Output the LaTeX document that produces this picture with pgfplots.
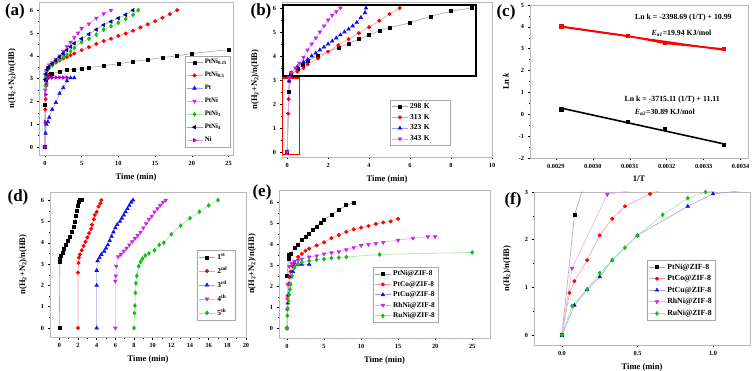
\documentclass[border=0pt]{standalone}
\usepackage{fontspec}
\setmainfont{Liberation Serif}
\usepackage{pgfplots}
\pgfplotsset{compat=1.18}

\definecolor{cred}{HTML}{FF0000}
\definecolor{cblue}{HTML}{1010F0}
\definecolor{cvio}{HTML}{CC22EE}
\definecolor{cgreen}{HTML}{10C010}
\definecolor{cnavy}{HTML}{000090}
\definecolor{cpurp}{HTML}{B000C8}

\tikzset{
  sblk/.style={draw=black!35,line width=0.6pt,mark=square*,mark size=1.5pt,mark options={draw=black,fill=black,solid}},
  sred/.style={draw=cred!40,line width=0.6pt,mark=*,mark size=1.7pt,mark options={draw=cred,fill=cred,solid}},
  sblu/.style={draw=cblue!40,line width=0.6pt,mark=triangle*,mark size=2pt,mark options={draw=cblue,fill=cblue,solid}},
  svio/.style={draw=cvio!40,line width=0.6pt,mark=triangle*,mark size=2pt,mark options={draw=cvio,fill=cvio,solid,rotate=180}},
  sgrn/.style={draw=cgreen!40,line width=0.6pt,mark=diamond*,mark size=2pt,mark options={draw=cgreen,fill=cgreen,solid}},
  snav/.style={draw=cnavy!40,line width=0.6pt,mark=triangle*,mark size=2pt,mark options={draw=cnavy,fill=cnavy,solid,rotate=90}},
  spur/.style={draw=cpurp!40,line width=0.6pt,mark=triangle*,mark size=2pt,mark options={draw=cpurp,fill=cpurp,solid,rotate=-90}},
}

\pgfplotsset{
  panel/.style={
    scale only axis, anchor=south west,
    axis line style={draw=gray!55,line width=0.5pt},
    every tick/.style={black,line width=0.45pt},
    tick align=outside, tick pos=left,
    major tick length=2.5pt, minor tick length=1.5pt,
    minor tick num=1,
    /pgf/number format/assume math mode=true,
    ticklabel style={font=\fontsize{6.3}{7}\selectfont\bfseries},
    label style={font=\fontsize{8.5}{9.5}\selectfont\bfseries},
    ylabel shift=7pt, xlabel shift=1pt,
    legend cell align=left,
    legend image code/.code={\draw[mark repeat=2,mark phase=2,##1] plot coordinates {(0pt,0pt) (8pt,0pt) (16pt,0pt)};},
  },
  leg/.style={legend style={draw=gray!70,line width=0.4pt,font=\fontsize{#1}{#1}\selectfont\bfseries,inner sep=1.5pt,cells={anchor=west}}},
}

\begin{document}
\begin{tikzpicture}
\path[use as bounding box] (0pt,0pt) rectangle (756pt,370pt);

% (a)
\begin{axis}[panel, at={(39pt,215pt)}, width=194pt, height=153pt,
  xmin=-0.8, xmax=25.6, ymin=-0.35, ymax=6.36,
  xtick={0,5,...,25}, ytick={0,...,6},
  xlabel={Time (min)}, ylabel={n(H\textsubscript{2}+N\textsubscript{2})/n(HB)},
  leg=6.8, legend style={at={(0.75,0.65)},anchor=north west,row sep=2.8pt}]
\addplot[sblk] coordinates {(0,0) (0.05,1.85) (0.1,2.95) (0.2,3.1) (0.3,3.15) (0.5,3.18) (0.75,3.2) (1,3.22) (2,3.3) (3,3.38) (4,3.4) (5,3.43) (6,3.48) (8,3.57) (10,3.65) (12,3.75) (14,3.83) (16,3.92) (18,4.0) (20,4.1) (25,4.27)};
\addplot[sred] coordinates {(0,0) (0.05,1.65) (0.1,2.1) (0.2,2.7) (0.3,3.2) (0.5,3.45) (1,3.6) (1.5,3.7) (2,3.8) (2.5,3.88) (3,3.95) (3.5,4.03) (4,4.1) (5,4.25) (6,4.38) (7,4.52) (8,4.65) (9,4.75) (10,4.87) (11,4.98) (12,5.1) (13,5.25) (14,5.38) (15,5.52) (16,5.67) (17,5.83) (18,6.0)};
\addplot[sblu] coordinates {(0,0) (0.1,0.6) (0.2,1.0) (0.4,1.1) (0.6,1.3) (1,1.65) (1.5,1.95) (2,2.35) (2.5,2.6) (3,2.9) (3.5,3.03) (4,3.03)};
\addplot[svio] coordinates {(0,0) (0.05,2.5) (0.1,3.0) (0.2,3.3) (0.4,3.5) (0.6,3.6) (1,3.7) (1.5,3.85) (2,4.0) (2.5,4.2) (3,4.4) (3.5,4.6) (4,4.8) (4.5,5.0) (5,5.2) (6,5.4) (7,5.65) (8,5.85) (9,6.0)};
\addplot[sgrn] coordinates {(0,0) (0.05,2.7) (0.1,3.1) (0.2,3.3) (0.4,3.45) (0.7,3.55) (1,3.6) (1.5,3.75) (2,3.85) (2.5,3.95) (3,4.05) (3.5,4.2) (4,4.35) (5,4.6) (6,4.75) (7,4.93) (8,5.15) (9,5.3) (10,5.45) (11,5.62) (12,5.8) (12.7,6.0)};
\addplot[snav] coordinates {(0,0) (0.05,2.95) (0.1,3.2) (0.3,3.4) (0.5,3.5) (1,3.65) (1.5,3.8) (2,3.95) (2.5,4.1) (3,4.25) (3.5,4.4) (4,4.55) (5,4.75) (6,4.95) (7,5.15) (8,5.35) (9,5.5) (10,5.65) (11,5.8) (12,6.0)};
\addplot[spur] coordinates {(0,0) (0.05,1.1) (0.1,2.3) (0.2,2.8) (0.4,3.0) (0.6,3.05) (1,3.05) (1.5,3.05) (2,3.05) (2.5,3.05) (3,3.05)};
\legend{PtNi\textsubscript{0.25}, PtNi\textsubscript{0.5}, Pt, PtNi, PtNi\textsubscript{2}, PtNi\textsubscript{4}, Ni}
\end{axis}

% (b)
\begin{axis}[panel, at={(282pt,213pt)}, width=210pt, height=155pt,
  xmin=-0.25, xmax=10, ymin=-0.21, ymax=6.25,
  xtick={0,2,...,10}, ytick={0,...,6},
  xlabel={Time (min)}, ylabel={n(H\textsubscript{2}+N\textsubscript{2})/n(HB)},
  leg=7.5, legend style={at={(0.514,0.37)},anchor=north west,row sep=0.3pt,
    /tikz/every even column/.append style={text width=36pt}}]
\addplot[sblk] coordinates {(0,0) (0.1,2.5) (0.2,3.2) (0.5,3.45) (0.75,3.65) (1,3.8) (1.5,4.0) (2.5,4.35) (3,4.52) (3.5,4.7) (4,4.87) (4.5,5.05) (5,5.18) (6,5.38) (7,5.65) (8,5.87) (9,6.0)};
\addplot[sred] coordinates {(0,0) (0.05,1.6) (0.07,2.2) (0.1,2.95) (0.2,3.3) (0.5,3.35) (0.8,3.5) (1.0,3.65) (1.5,3.9) (2,4.18) (2.5,4.45) (3,4.7) (3.5,4.95) (4,5.2) (4.5,5.47) (5,5.75) (5.5,6.0)};
\addplot[sblu] coordinates {(0,0) (0.1,2.95) (0.2,3.3) (0.5,3.55) (0.8,3.75) (1,3.85) (1.2,4.0) (1.4,4.12) (1.6,4.25) (1.8,4.37) (2,4.5) (2.2,4.62) (2.4,4.75) (2.6,4.88) (2.8,5.0) (3,5.12) (3.2,5.25) (3.4,5.4) (3.6,5.6) (3.8,5.8) (3.85,6.0)};
\addplot[svio] coordinates {(0,0) (0.1,3.1) (0.2,3.3) (0.4,3.5) (0.6,3.7) (0.8,3.95) (1,4.25) (1.2,4.5) (1.4,4.75) (1.6,5.0) (1.8,5.25) (2,5.5) (2.2,5.7) (2.4,5.85) (2.6,6.0)};
\legend{298 K, 313 K, 323 K, 343 K}
\draw[black,line width=2pt] (axis cs:-0.22,3.15) rectangle (axis cs:9.2,6.14);
\draw[red,line width=1.2pt] (axis cs:-0.22,-0.12) rectangle (axis cs:0.6,3.08);
\end{axis}

% (c)
\begin{axis}[panel, at={(530pt,212pt)}, width=218pt, height=153pt,
  xmin=0.00283, xmax=0.00342, ymin=-2, ymax=5,
  xtick={0.0029,0.0030,0.0031,0.0032,0.0033,0.0034}, ytick={-2,...,5},
  scaled x ticks=false, ylabel shift=3pt,
  xticklabel style={/pgf/number format/.cd,fixed,fixed zerofill,precision=4},
  xlabel={1/T}, ylabel={Ln \textit{k}}]
\addplot[draw=red,line width=1.6pt,mark=square*,mark size=1.3pt,mark options={fill=red,solid}] coordinates {(0.002915,4.02) (0.003096,3.58) (0.003195,3.25) (0.003356,2.98)};
\addplot[draw=red,line width=1.6pt] coordinates {(0.002915,4.0) (0.003356,2.94)};
\addplot[draw=black,line width=1.6pt,only marks,mark=square*,mark size=1.3pt] coordinates {(0.002915,0.22) (0.003096,-0.35) (0.003195,-0.68) (0.003356,-1.42)};
\addplot[draw=black,line width=1.6pt] coordinates {(0.002915,0.28) (0.003356,-1.36)};
\node[font=\fontsize{7.8}{8.5}\selectfont\bfseries] at (axis cs:0.003245,4.41) {Ln k = -2398.69 (1/T) + 10.99};
\node[font=\fontsize{7.8}{8.5}\selectfont\bfseries] at (axis cs:0.003240,3.72) {\textit{E}\textsubscript{\textit{a1}}=19.94 KJ/mol};
\node[font=\fontsize{7.8}{8.5}\selectfont\bfseries] at (axis cs:0.003215,0.66) {Ln k = -3715.11 (1/T) + 11.11};
\node[font=\fontsize{7.8}{8.5}\selectfont\bfseries] at (axis cs:0.003195,0.11) {\textit{E}\textsubscript{\textit{a2}}=30.89 KJ/mol};
\end{axis}

% (d)
\begin{axis}[panel, at={(50pt,33pt)}, width=196pt, height=145pt,
  xmin=-1, xmax=20, ymin=-0.42, ymax=6.38,
  xtick={0,2,...,20}, ytick={0,...,6},
  xlabel={Time (min)}, ylabel={n(H\textsubscript{2}+N\textsubscript{2})/n(HB)},
  leg=7.5, legend style={at={(0.75,0.6)},anchor=north west,row sep=1.8pt,
    /tikz/every even column/.append style={text width=14pt}}]
\addplot[sblk] coordinates {(0,0) (0.05,3.1) (0.1,3.25) (0.2,3.4) (0.35,3.55) (0.5,3.7) (0.7,3.9) (0.9,4.1) (1.1,4.3) (1.3,4.5) (1.5,4.75) (1.7,5.0) (1.8,5.25) (1.9,5.5) (2.0,5.75) (2.1,5.9) (2.2,6.0) (2.4,6.0)};
\addplot[sred] coordinates {(2,0) (2,2.6) (2.05,3.05) (2.1,3.3) (2.2,3.45) (2.4,3.65) (2.6,3.85) (2.8,4.05) (3.0,4.25) (3.2,4.45) (3.4,4.65) (3.5,4.85) (3.7,5.1) (3.8,5.3) (4.0,5.45) (4.2,5.7) (4.4,5.85) (4.5,6.0)};
\addplot[sblu] coordinates {(4,0) (4,2.0) (4,2.7) (4.1,3.15) (4.3,3.3) (4.5,3.45) (4.8,3.6) (5.0,3.75) (5.2,3.9) (5.4,4.1) (5.6,4.3) (5.8,4.5) (6.0,4.7) (6.2,4.85) (6.5,5.0) (6.7,5.15) (6.9,5.3) (7.1,5.45) (7.3,5.6) (7.5,5.75) (7.7,5.9) (7.9,6.0)};
\addplot[svio] coordinates {(6,0) (6,2.2) (6.05,2.45) (6.1,2.9) (6.3,3.35) (6.6,3.45) (6.9,3.6) (7.2,3.75) (7.5,3.9) (7.8,4.05) (8.1,4.2) (8.4,4.35) (8.7,4.5) (9.0,4.7) (9.3,4.9) (9.6,5.1) (9.9,5.25) (10.2,5.45) (10.5,5.6) (10.8,5.75) (11.1,5.9) (11.4,6.0)};
\addplot[sgrn] coordinates {(8,0) (8.05,0.7) (8.1,1.05) (8.15,1.65) (8.2,2.1) (8.3,2.45) (8.5,2.9) (8.7,3.1) (8.9,3.25) (9.2,3.4) (9.6,3.5) (10.2,3.65) (10.7,3.9) (11.2,4.0) (12.0,4.4) (13,4.8) (14,5.15) (15,5.45) (16,5.75) (17,6.0)};
\legend{1\textsuperscript{st}, 2\textsuperscript{nd}, 3\textsuperscript{rd}, 4\textsuperscript{th}, 5\textsuperscript{th}}
\end{axis}

% (e)
\begin{axis}[panel, at={(279pt,32pt)}, width=211pt, height=148pt,
  xmin=-1.08, xmax=27.4, ymin=-0.47, ymax=6.6,
  xtick={0,5,...,25}, ytick={0,...,6},
  xlabel={Time (min)}, ylabel={n(H\textsubscript{2}+N\textsubscript{2})/n(HB)},
  leg=7.3, legend style={at={(0.445,0.48)},anchor=north west,row sep=0pt}]
\addplot[sblk] coordinates {(0,2.5) (0.2,3.3) (0.3,3.5) (0.5,3.55) (1,3.85) (1.5,4.0) (2,4.2) (2.5,4.35) (3,4.5) (3.5,4.7) (4,4.85) (4.5,5.05) (5,5.2) (6,5.4) (7,5.65) (8,5.87) (9,6.0)};
\addplot[sred] coordinates {(0,0) (0.05,0.9) (0.1,1.55) (0.2,2.1) (0.3,2.45) (0.5,2.7) (0.8,2.95) (1,3.1) (1.5,3.4) (2,3.55) (2.5,3.7) (3,3.8) (4,3.95) (5,4.1) (6,4.3) (7,4.45) (8,4.6) (9,4.72) (10,4.8) (11,4.88) (12,4.98) (13,5.05) (14,5.1) (15,5.22)};
\addplot[sblu] coordinates {(0,0) (0.1,1.2) (0.2,1.6) (0.3,2.1) (0.5,2.45) (0.8,2.7) (1,2.95) (1.5,3.05) (2,3.05) (3,3.05)};
\addplot[svio] coordinates {(0,0) (0.05,1.4) (0.1,2.1) (0.3,2.95) (0.6,3.1) (1,3.2) (1.5,3.25) (2,3.3) (3,3.4) (4,3.45) (5,3.55) (6,3.6) (7,3.65) (8,3.75) (9,3.85) (10,3.95) (11,4.0) (12,4.05) (13,4.1) (15,4.2) (17,4.3) (19,4.37) (20,4.37)};
\addplot[sgrn] coordinates {(0,0) (0.05,0.6) (0.1,0.95) (0.2,1.3) (0.3,1.6) (0.4,1.85) (0.5,2.1) (0.7,2.5) (1,2.9) (1.5,3.05) (2,3.15) (3,3.22) (4,3.27) (5,3.3) (6,3.35) (7,3.37) (8,3.4) (12.5,3.52) (25,3.62)};
\legend{PtNi@ZIF-8, PtCo@ZIF-8, PtCu@ZIF-8, RhNi@ZIF-8, RuNi@ZIF-8}
\end{axis}

% (f)
\begin{axis}[panel, at={(534pt,25pt)}, width=216pt, height=153pt,
  xmin=-0.185, xmax=1.245, ymin=-0.21, ymax=3,
  xtick={0,0.5,1}, ytick={0,...,3},
  xticklabel style={/pgf/number format/.cd,fixed,fixed zerofill,precision=1},
  xlabel={Time (min)}, ylabel={n(H\textsubscript{2})/n(HB)},
  leg=7.8, legend style={at={(0.523,0.556)},anchor=north west,row sep=0.8pt}]
\addplot[sblk] coordinates {(0,0) (0.083,2.52) (0.167,3.35)};
\addplot[sred] coordinates {(0,0) (0.05,0.88) (0.083,1.13) (0.167,1.57) (0.25,2.09) (0.333,2.44) (0.417,2.7) (0.583,2.96) (0.75,3.15)};
\addplot[sblu] coordinates {(0,0) (0.083,0.62) (0.167,0.95) (0.25,1.22) (0.333,1.57) (0.5,2.09) (0.833,2.7) (1.0,2.96) (1.25,3.05)};
\addplot[svio] coordinates {(0,0) (0.067,1.4) (0.3,2.95) (0.5,3.05)};
\addplot[sgrn] coordinates {(0,0) (0.067,0.61) (0.167,0.96) (0.25,1.3) (0.333,1.57) (0.417,1.83) (0.5,2.09) (0.667,2.52) (0.833,2.87) (0.95,3.0) (1.1,3.05)};
\legend{PtNi@ZIF-8, PtCo@ZIF-8, PtCu@ZIF-8, RhNi@ZIF-8, RuNi@ZIF-8}
\end{axis}

% panel letters
\node[font=\fontsize{17}{18}\selectfont\bfseries] at (15pt,359pt) {(a)};
\node[font=\fontsize{17}{18}\selectfont\bfseries] at (261pt,359pt) {(b)};
\node[font=\fontsize{17}{18}\selectfont\bfseries] at (506pt,358pt) {(c)};
\node[font=\fontsize{17}{18}\selectfont\bfseries] at (18pt,173pt) {(d)};
\node[font=\fontsize{17}{18}\selectfont\bfseries] at (262pt,178pt) {(e)};
\node[font=\fontsize{17}{18}\selectfont\bfseries] at (513pt,170pt) {(f)};
\end{tikzpicture}
\end{document}
